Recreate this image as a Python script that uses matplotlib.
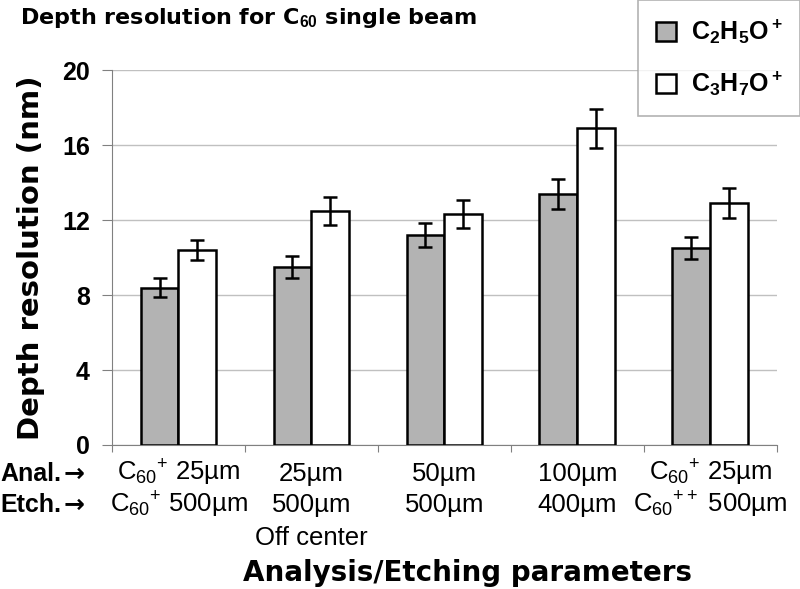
"""Depth resolution for C60 single beam, two fragment ions per setting."""

import matplotlib
matplotlib.use("Agg")
import matplotlib.pyplot as plt
import numpy as np

plt.rcParams["mathtext.fontset"] = "custom"
plt.rcParams["mathtext.rm"] = "Liberation Sans"
plt.rcParams["mathtext.it"] = "Liberation Sans:italic"
plt.rcParams["mathtext.bf"] = "Liberation Sans:bold"

# analysis / etching settings (one list per text line under the axis)
anal_line = [r"C$_{60}{}^{+}$ 25µm", "25µm", "50µm", "100µm", r"C$_{60}{}^{+}$ 25µm"]
etch_line = [r"C$_{60}{}^{+}$ 500µm", "500µm", "500µm", "400µm", r"C$_{60}{}^{++}$ 500µm"]
extra_line = ["", "Off center", "", "", ""]

c2h5o = [8.4, 9.5, 11.2, 13.4, 10.5]
c2h5o_err = [0.5, 0.6, 0.65, 0.8, 0.6]
c3h7o = [10.4, 12.5, 12.3, 16.9, 12.9]
c3h7o_err = [0.55, 0.75, 0.75, 1.05, 0.8]

yticks = [0, 4, 8, 12, 16, 20]

fig = plt.figure(figsize=(8, 5.89), dpi=100)
ax = fig.add_axes([0.14, 0.2445, 0.831, 0.6365])

x = np.arange(len(anal_line))
w = 0.285
ekw = dict(ecolor="black", elinewidth=1.8, capsize=5, capthick=1.8)
ax.bar(x - w / 2, c2h5o, w, color="#b3b3b3", edgecolor="black", lw=1.8,
       yerr=c2h5o_err, error_kw=ekw, label=r"$\mathbf{C_2H_5O^+}$", zorder=3)
ax.bar(x + w / 2, c3h7o, w, color="white", edgecolor="black", lw=1.8,
       yerr=c3h7o_err, error_kw=ekw, label=r"$\mathbf{C_3H_7O^+}$", zorder=3)

ax.set_xlim(-0.5, len(x) - 0.5)
ax.set_ylim(0, 20)
ax.set_yticks(yticks)
ax.set_yticklabels([str(v) for v in yticks], fontsize=18, fontweight="bold",
                   family="Liberation Sans")
ax.yaxis.grid(True, color="#c0c0c0", lw=1)
ax.set_axisbelow(True)
for s in ("top", "right"):
    ax.spines[s].set_visible(False)
for s in ("left", "bottom"):
    ax.spines[s].set_color("#808080")
ax.tick_params(axis="y", color="#808080", length=7, pad=9)
ax.set_xticks(np.arange(len(x) + 1) - 0.5)
ax.set_xticklabels([])
ax.tick_params(axis="x", color="#808080", length=5)

tr = ax.get_xaxis_transform()
tfont = dict(family=["Liberation Sans", "DejaVu Sans"], fontsize=18.5, ha="center",
             va="baseline")
for i in x:
    ax.text(i, -0.096, anal_line[i], transform=tr, **tfont)
    ax.text(i, -0.179, etch_line[i], transform=tr, **tfont)
    if extra_line[i]:
        ax.text(i, -0.267, extra_line[i], transform=tr, **tfont)
lfont = dict(family="Liberation Sans", fontsize=18, fontweight="bold", ha="left",
             va="baseline")
afont = dict(family="DejaVu Sans", fontsize=18, fontweight="bold", ha="left",
             va="baseline")
for label, yb in (("Anal.", 481), ("Etch.", 512)):
    fig.text(0.0, 1 - yb / 589, label, **lfont)
    fig.text(0.08, 1 - yb / 589, "→", **afont)

ax.set_ylabel("Depth resolution (nm)", fontsize=21, fontweight="bold", labelpad=12)
fig.text(0.584, 1 - 573 / 589, "Analysis/Etching parameters", fontsize=20,
         fontweight="bold", ha="center", va="center")
fig.text(0.025, 1 - 18 / 589, r"Depth resolution for C$_{\mathbf{60}}$ single beam",
         fontsize=16, fontweight="bold", ha="left", va="center")

leg = fig.legend(loc="upper right", bbox_to_anchor=(1.0, 1.0), fontsize=18,
                 frameon=True, fancybox=False, borderaxespad=0, handlelength=0.8,
                 handleheight=0.8, labelspacing=0.95, borderpad=0.7, handletextpad=0.6)
leg.get_frame().set_edgecolor("#a0a0a0")
leg.get_frame().set_linewidth(1.2)

fig.savefig("out.png", dpi=100)
